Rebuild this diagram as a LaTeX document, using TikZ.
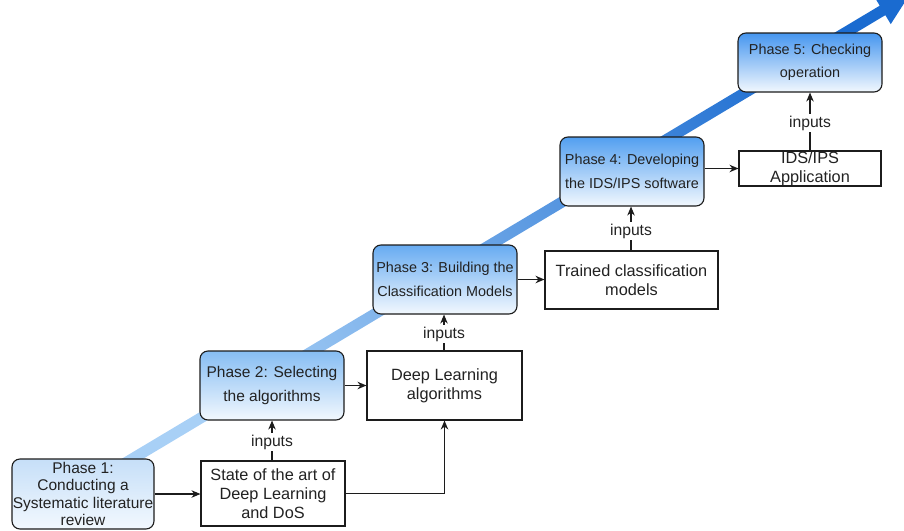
\documentclass[tikz,border=0pt]{standalone}
\usepackage{fontspec}
\setmainfont{Liberation Sans}
\usetikzlibrary{arrows.meta}

\definecolor{edge}{HTML}{1C1C1C}
\definecolor{txt}{HTML}{222222}
\definecolor{stripelight}{HTML}{A8D0F6}
\definecolor{stripedark}{HTML}{1A6BD0}
\definecolor{phaselow}{HTML}{F2F8FE}
\definecolor{phaseA}{HTML}{C6DFF8}
\definecolor{phaseB}{HTML}{86BDF3}
\definecolor{phaseC}{HTML}{67ABF1}
\definecolor{phaseD}{HTML}{529FF0}
\definecolor{phaseE}{HTML}{4696EF}

\tikzset{
  phasebox/.style={draw=edge, line width=1.1pt, rounded corners=8pt,
    top color=#1, bottom color=phaselow,
    minimum width=144pt, minimum height=69pt, inner sep=0pt,
    align=center, text=txt, font=\fontsize{14.4}{24}\selectfont},
  outbox/.style={draw=edge, line width=1.1pt, fill=white, inner sep=0pt,
    align=center, text=txt, font=\fontsize{16.3}{19}\selectfont},
  inlabel/.style={inner sep=1.5pt, text=txt, font=\fontsize{15.7}{17}\selectfont},
  link/.style={draw=edge, line width=1.1pt},
  arrowlink/.style={link, -{Stealth[length=9pt,width=7.5pt]}}
}

\begin{document}
\begin{tikzpicture}[x=1pt,y=-1pt]
\useasboundingbox (0,0) rectangle (904,530);

% rising progress arrow behind the phases
\begin{scope}
  \clip (0,0) rectangle (904,530);
  \path[top color=stripedark, bottom color=stripelight, shading angle=-59]
    (119.18,460.28) -- (879.71,5.70) -- (874.32,-3.31) -- (910,-6)
    -- (890.74,24.15) -- (885.35,15.14) -- (124.82,469.72) -- cycle;
\end{scope}

% phases
\node[phasebox=phaseA, minimum width=142pt, minimum height=70pt,
      font=\fontsize{15.5}{17.5}\selectfont] (p1) at (83,494)
  {Phase 1:\\Conducting a\\Systematic literature\\review};
\node[phasebox=phaseB, font=\fontsize{15.5}{24}\selectfont] (p2) at (272,385.5)
  {Phase 2: Selecting\\the algorithms};
\node[phasebox=phaseC] (p3) at (445,279.5) {Phase 3: Building the\\Classification Models};
\node[phasebox=phaseD] (p4) at (632,171.5) {Phase 4: Developing\\the IDS/IPS software};
\node[phasebox=phaseE, minimum height=59pt,
      font=\fontsize{14.4}{23}\selectfont] (p5) at (810,62.5) {Phase 5: Checking\\operation};

% outputs of each phase
\node[outbox, minimum width=144pt, minimum height=65pt] (st) at (273,493.5)
  {State of the art of\\Deep Learning\\and DoS};
\node[outbox, minimum width=155pt, minimum height=69pt] (dl) at (444.5,385.5)
  {Deep Learning\\algorithms};
\node[outbox, minimum width=173pt, minimum height=58pt] (tc) at (631.5,280)
  {Trained classification\\models};
\node[outbox, minimum width=142pt, minimum height=35pt] (ids) at (810,168.5)
  {IDS/IPS\\Application};

% "inputs" labels
\node[inlabel] (i1) at (272,442) {inputs};
\node[inlabel] (i2) at (444,334) {inputs};
\node[inlabel] (i3) at (631,231) {inputs};
\node[inlabel] (i4) at (810,123) {inputs};

% connectors
\draw[arrowlink] (p1.east) -- (p1.east -| st.west);
\draw[arrowlink] (st.east) -| (dl.south);
\draw[link] (st.north -| i1.south) -- (i1.south);
\draw[arrowlink] (i1.north) -- (p2.south);
\draw[arrowlink] (p2.east) -- (dl.west);
\draw[link] (dl.north -| i2.south) -- (i2.south);
\draw[arrowlink] (i2.north) -- (i2.north |- p3.south);
\draw[arrowlink] (p3.east) -- (p3.east -| tc.west);
\draw[link] (tc.north -| i3.south) -- (i3.south);
\draw[arrowlink] (i3.north) -- (i3.north |- p4.south);
\draw[arrowlink] (p4.east |- ids.west) -- (ids.west);
\draw[link] (ids.north) -- (i4.south);
\draw[arrowlink] (i4.north) -- (p5.south);
\end{tikzpicture}
\end{document}
